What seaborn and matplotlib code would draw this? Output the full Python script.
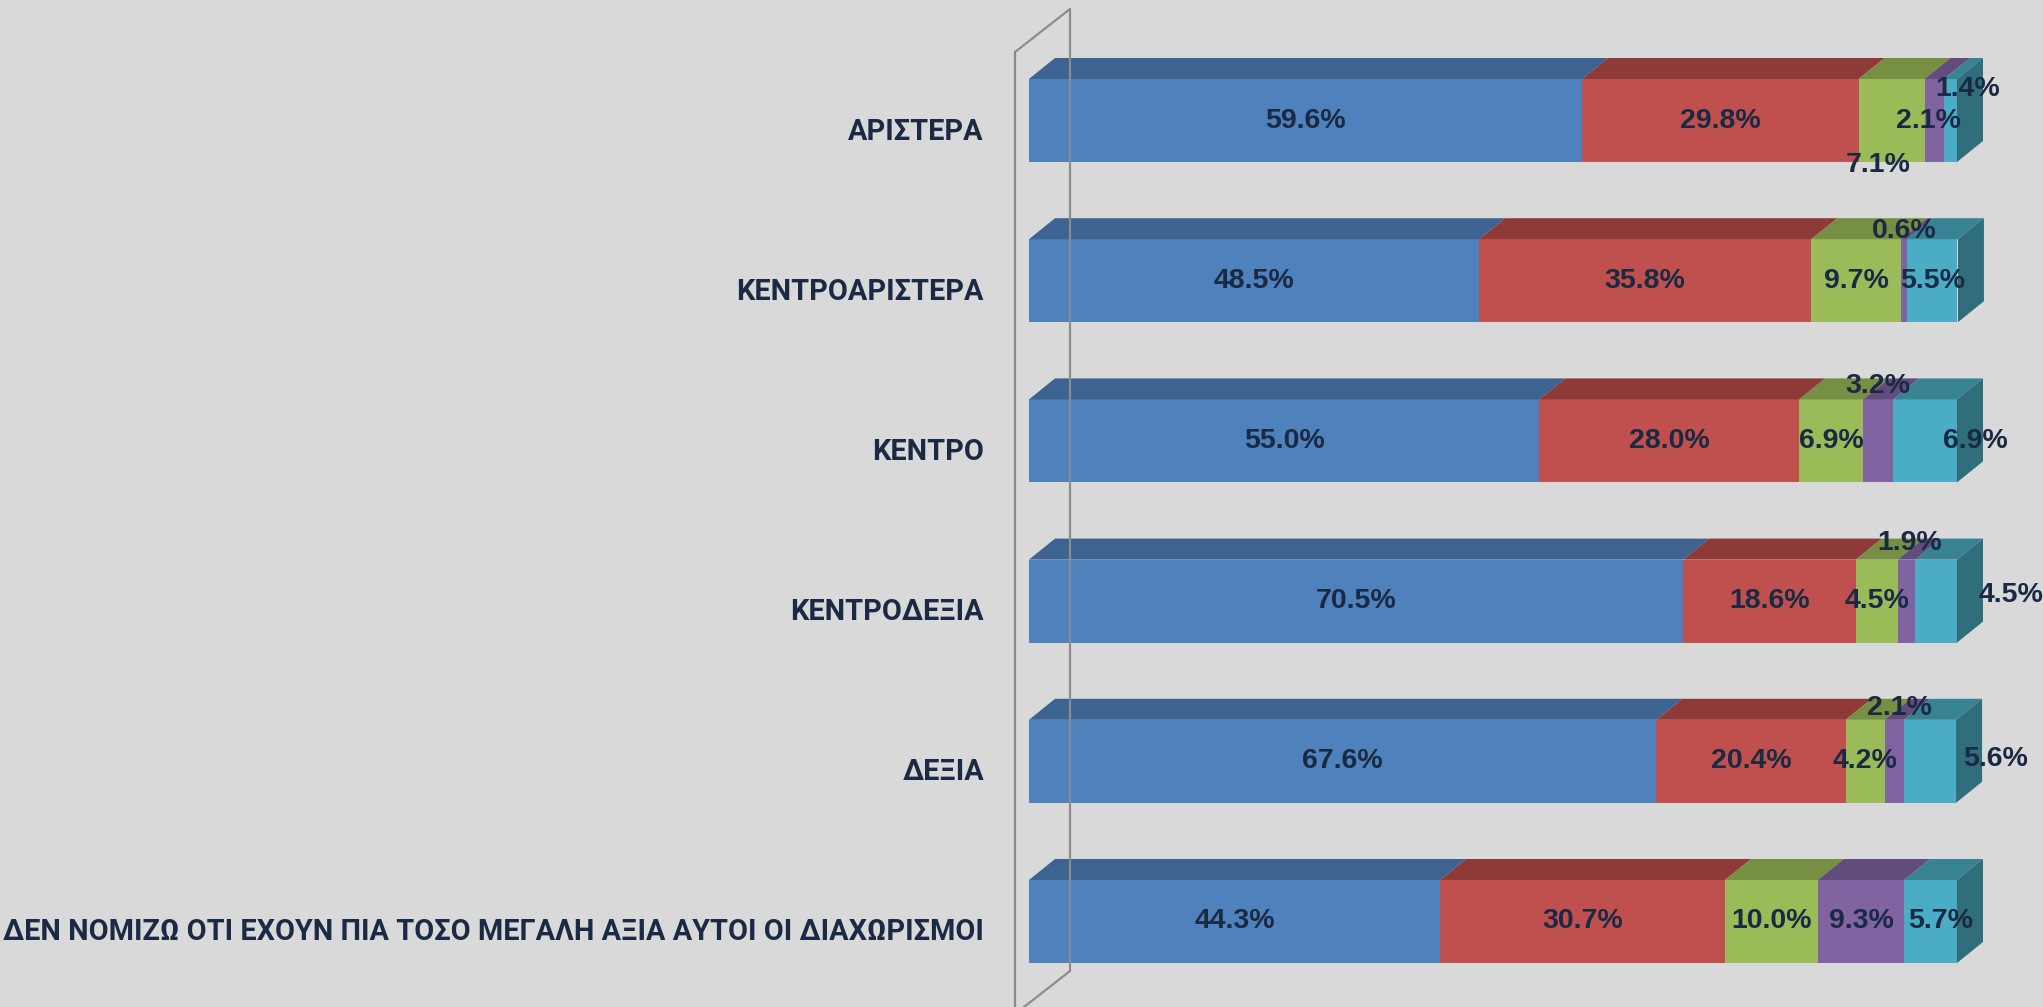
import numpy as np
import pandas as pd
import matplotlib
matplotlib.use("Agg")
import matplotlib.pyplot as plt
from matplotlib.patches import Polygon
from matplotlib.lines import Line2D
import seaborn as sns

# ---------------- data ----------------
categories = ["ΑΡΙΣΤΕΡΑ", "ΚΕΝΤΡΟΑΡΙΣΤΕΡΑ", "ΚΕΝΤΡΟ", "ΚΕΝΤΡΟΔΕΞΙΑ", "ΔΕΞΙΑ",
              "ΔΕΝ ΝΟΜΙΖΩ ΟΤΙ ΕΧΟΥΝ ΠΙΑ ΤΟΣΟ ΜΕΓΑΛΗ ΑΞΙΑ ΑΥΤΟΙ ΟΙ ΔΙΑΧΩΡΙΣΜΟΙ"]
series1 = [59.6, 48.5, 55.0, 70.5, 67.6, 44.3]
series2 = [29.8, 35.8, 28.0, 18.6, 20.4, 30.7]
series3 = [7.1, 9.7, 6.9, 4.5, 4.2, 10.0]
series4 = [2.1, 0.6, 3.2, 1.9, 2.1, 9.3]
series5 = [1.4, 5.5, 6.9, 4.5, 5.6, 5.7]

# ---------------- style ----------------
front_colors = ["#4F81BD", "#C0504D", "#9BBB59", "#8064A2", "#4BACC6"]
top_colors = ["#3D6390", "#8E3A39", "#778F43", "#624C7C", "#378394"]
side_color = "#306E7C"
bg = "#D9D9D9"
txt = "#1A2A44"

sns.set_theme(style="white")
plt.rcParams["font.family"] = ["Liberation Sans", "DejaVu Sans"]

W, H = 2043, 1007
fig = plt.figure(figsize=(W / 100, H / 100), dpi=100, facecolor=bg)

# pixel geometry
x0_px, x1_px = 1029, 1957          # 0% .. 100%
c0_px, step_px = 120.5, 160.2      # first bar centre, spacing
bar_h = 83 / step_px
px_per_unit = (x1_px - x0_px) / 100.0
ax = fig.add_axes([x0_px / W, 0, (x1_px - x0_px) / W, 1])
ax.set_facecolor(bg)
ax.patch.set_alpha(0)

vals = np.array([series1, series2, series3, series4, series5]).T
cum = np.cumsum(vals, axis=1)
starts = cum - vals

df = pd.DataFrame({"cat": categories})
for k in range(5):
    df[f"c{k}"] = cum[:, k]

for k in reversed(range(5)):
    sns.barplot(data=df, x=f"c{k}", y="cat", orient="h", color=front_colors[k],
                saturation=1, width=bar_h, ax=ax, linewidth=0)

ax.set_xlim(0, 100)
ylim_top = -c0_px / step_px
ylim_bot = (H - c0_px) / step_px
ax.set_ylim(ylim_bot, ylim_top)
ax.axis("off")

# 3D faces
dx = 26 / px_per_unit
dy = 21 / step_px
for i in range(len(categories)):
    top = i - bar_h / 2
    bot = i + bar_h / 2
    for k in range(5):
        l, r = starts[i, k], cum[i, k]
        poly = Polygon([(l, top), (r, top), (r + dx, top - dy), (l + dx, top - dy)],
                       closed=True, facecolor=top_colors[k], edgecolor="none", clip_on=False)
        ax.add_patch(poly)
    end = cum[i, -1]
    side = Polygon([(end, top), (end, bot), (end + dx, bot - dy), (end + dx, top - dy)],
                   closed=True, facecolor=side_color, edgecolor="none", clip_on=False)
    ax.add_patch(side)

# wall lines (pixel coords)
def P(x, y):
    return (x / W, 1 - y / H)

wall_col = "#8C8C8C"
for (xa, ya), (xb, yb) in [((1070, 9), (1070, 971)), ((1015, 52), (1015, 1010)),
                           ((1015, 52), (1070, 9)), ((1070, 971), (1015, 1014))]:
    a, b = P(xa, ya), P(xb, yb)
    fig.add_artist(Line2D([a[0], b[0]], [a[1], b[1]], color=wall_col, lw=1.6,
                          transform=fig.transFigure))

# category labels
lab_x = -(x0_px - 984) / px_per_unit
for i, c in enumerate(categories):
    ax.text(lab_x, i + 11 / step_px, c, ha="right", va="center", fontsize=20.8,
            fontweight="bold", color=txt, clip_on=False,
            family=["Roboto", "Liberation Sans", "DejaVu Sans"])

# value labels: offsets in pixels (dx, dy)
offsets = {
    (0, 2): (-13, 45), (0, 3): (-6, 0), (0, 4): (17, -32),
    (1, 3): (0, -50),
    (2, 3): (0, -55), (2, 4): (50, 0),
    (3, 3): (3, -58), (3, 4): (75, -6),
    (4, 3): (5, -53), (4, 4): (66, -2),
    (5, 4): (10, 0),
}
for i in range(len(categories)):
    for k in range(5):
        cx = starts[i, k] + vals[i, k] / 2
        cy = i
        ox, oy = offsets.get((i, k), (0, 0))
        ax.text(cx + ox / px_per_unit, cy + oy / step_px, f"{vals[i, k]:.1f}%",
                ha="center", va="center", fontsize=20.5, fontweight="bold",
                color=txt, clip_on=False, zorder=10)

fig.savefig("out.png", dpi=100, facecolor=bg)
